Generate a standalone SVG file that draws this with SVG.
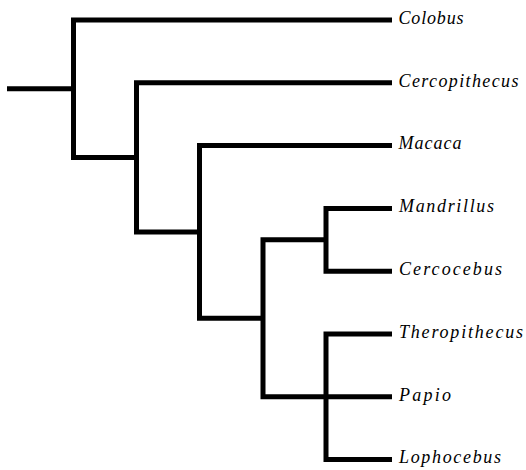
<svg xmlns="http://www.w3.org/2000/svg" width="526" height="470" viewBox="0 0 526 470">
<style>
.e{fill:none;stroke:#000;stroke-width:5;stroke-linejoin:miter;stroke-linecap:butt}
.t{font-family:'Liberation Serif','Times New Roman',serif;font-style:italic;font-size:18px;fill:#000}
</style>
<rect width="526" height="470" fill="#fff"/>
<g id="connectors">
<path class="e" d="M7 88.7 H73.5"/>
<path class="e" d="M392 20 H73.5 V157.4 H136.5"/>
<path class="e" d="M392 82.8 H136.5 V232 H199.5"/>
<path class="e" d="M392 145.6 H199.5 V318.3 H263"/>
<path class="e" d="M326 239.8 H263 V396.8 H326"/>
<path class="e" d="M392 208.4 H326 V271.2 H392"/>
<path class="e" d="M392 334 H326 V459.6 H392"/>
<path class="e" d="M326 396.8 H392"/>
</g>
<g id="colobus"><text class="t" x="398.5" y="24" textLength="65" lengthAdjust="spacing">Colobus</text></g>
<g id="cercopithecus"><text class="t" x="398.5" y="86.6" textLength="120" lengthAdjust="spacing">Cercopithecus</text></g>
<g id="macaca"><text class="t" x="398.5" y="149.4" textLength="63" lengthAdjust="spacing">Macaca</text></g>
<g id="mandrillus"><text class="t" x="399" y="212.2" textLength="95" lengthAdjust="spacing">Mandrillus</text></g>
<g id="cercocebus"><text class="t" x="399" y="275" textLength="103" lengthAdjust="spacing">Cercocebus</text></g>
<g id="theropithecus"><text class="t" x="399" y="337.8" textLength="124" lengthAdjust="spacing">Theropithecus</text></g>
<g id="papio"><text class="t" x="399" y="400.6" textLength="52" lengthAdjust="spacing">Papio</text></g>
<g id="lophocebus"><text class="t" x="399" y="463.4" textLength="102" lengthAdjust="spacing">Lophocebus</text></g>
</svg>
